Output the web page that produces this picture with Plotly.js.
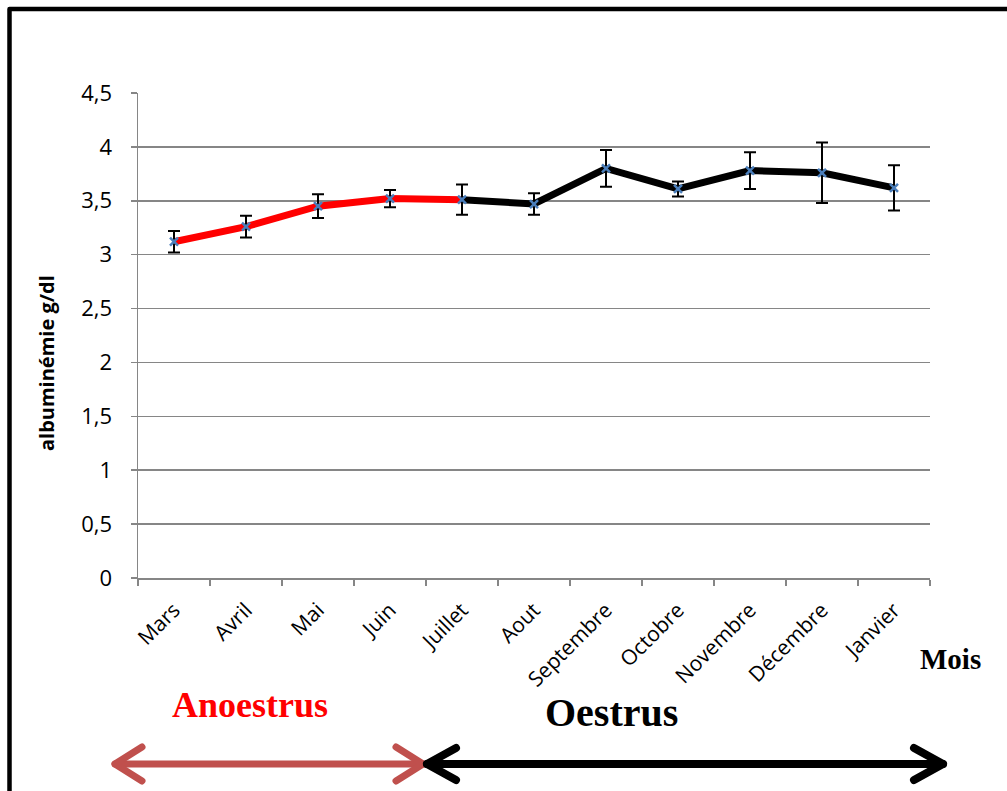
<!DOCTYPE html>
<html>
<head>
<meta charset="utf-8">
<script src="https://cdn.plot.ly/plotly-3.0.1.min.js"></script>
<style>
  html, body { margin: 0; padding: 0; background: #ffffff; }
  #chart { width: 1007px; height: 791px; }
</style>
</head>
<body>
<div id="chart"></div>
<script>
// Mois de suivi
const months = ['Mars', 'Avril', 'Mai', 'Juin', 'Juillet', 'Aout', 'Septembre', 'Octobre', 'Novembre', 'Décembre', 'Janvier'];
// Albuminémie moyenne (g/dl)
const albumin = [3.12, 3.26, 3.45, 3.52, 3.51, 3.47, 3.80, 3.61, 3.78, 3.76, 3.62];
// Écart-type (g/dl)
const albuminSD = [0.10, 0.10, 0.11, 0.08, 0.14, 0.10, 0.17, 0.07, 0.17, 0.28, 0.21];
// Saisons
const seasonLabels = ['Anoestrus', 'Oestrus'];
const anoestrusLast = 4; // Juillet closes the anoestrus segment
const yTicks = [0, 0.5, 1, 1.5, 2, 2.5, 3, 3.5, 4, 4.5];

// Page layout in pixels
const W = 1007, H = 791;
const PL = 138, PR = 930, PT = 93, PB = 578;
const px = x => (x - PL) / (PR - PL);
const py = y => (PB - y) / (PB - PT);
const pathOf = pts => pts.map((p, i) => (i ? 'L ' : 'M ') + px(p[0]) + ',' + py(p[1])).join(' ');

const GREY = '#868686';
const SANS = 'Open Sans, Noto Sans, sans-serif';
const SERIF = 'Liberation Serif, Times New Roman, serif';

const traces = [
  {
    x: months.slice(0, anoestrusLast + 1),
    y: albumin.slice(0, anoestrusLast + 1),
    mode: 'lines',
    line: { color: '#ff0000', width: 7 },
    hoverinfo: 'skip',
    showlegend: false
  },
  {
    x: months.slice(anoestrusLast),
    y: albumin.slice(anoestrusLast),
    mode: 'lines',
    line: { color: '#000000', width: 7 },
    hoverinfo: 'skip',
    showlegend: false
  },
  {
    x: months,
    y: albumin,
    mode: 'markers',
    marker: { symbol: 'x-thin', size: 8, line: { color: '#4a7ebb', width: 2.5 } },
    error_y: { type: 'data', array: albuminSD, visible: true, color: '#000000', thickness: 2, width: 6 },
    showlegend: false
  }
];

function arrow(x0, x1, y, head, dy) {
  return [
    pathOf([[x0, y], [x1, y]]),
    pathOf([[x0 + head, y - dy], [x0, y], [x0 + head, y + dy]]),
    pathOf([[x1 - head, y - dy], [x1, y], [x1 - head, y + dy]])
  ];
}

const shapes = [
  // frame
  { type: 'rect', xref: 'paper', yref: 'paper', x0: px(9.5), x1: px(1030), y0: py(9), y1: py(810),
    line: { color: '#000000', width: 4.5 }, fillcolor: 'rgba(0,0,0,0)' }
];
arrow(115, 423, 764, 27, 17).forEach(d => shapes.push({ type: 'path', xref: 'paper', yref: 'paper', path: d,
  line: { color: '#c0504d', width: 7 } }));
arrow(427, 943, 764, 29, 16).forEach(d => shapes.push({ type: 'path', xref: 'paper', yref: 'paper', path: d,
  line: { color: '#000000', width: 8 } }));

const annotations = [
  { text: '<b>albuminémie g/dl</b>', xref: 'paper', yref: 'paper', x: px(46), y: py(363), textangle: -90,
    showarrow: false, xanchor: 'center', yanchor: 'middle', font: { family: SANS, size: 20, color: '#000' } },
  { text: '<b>' + seasonLabels[0] + '</b>', xref: 'paper', yref: 'paper', x: px(250), y: py(705),
    showarrow: false, xanchor: 'center', yanchor: 'middle', font: { family: SERIF, size: 36, color: '#ff0000' } },
  { text: '<b>' + seasonLabels[1] + '</b>', xref: 'paper', yref: 'paper', x: px(611), y: py(712),
    showarrow: false, xanchor: 'center', yanchor: 'middle', font: { family: SERIF, size: 40, color: '#000' } },
  { text: '<b>Mois</b>', xref: 'paper', yref: 'paper', x: px(950), y: py(659),
    showarrow: false, xanchor: 'center', yanchor: 'middle', font: { family: SERIF, size: 29, color: '#000' } }
];

const layout = {
  width: W, height: H,
  margin: { l: PL, r: W - PR, t: PT, b: H - PB, pad: 0 },
  paper_bgcolor: '#ffffff', plot_bgcolor: '#ffffff',
  separators: ', ',
  font: { family: SANS, size: 17, color: '#000' },
  showlegend: false,
  xaxis: {
    type: 'category', categoryorder: 'array', categoryarray: months,
    range: [-0.5, months.length - 0.5],
    tickson: 'boundaries', ticks: 'outside', ticklen: 6, tickwidth: 1.5, tickcolor: GREY,
    showline: true, linecolor: GREY, linewidth: 1.5, showgrid: false, zeroline: false,
    tickangle: -45, ticklabelstandoff: 10,
    tickfont: { family: SANS, size: 21, color: '#000' }
  },
  yaxis: {
    range: [0, 4.5], tickvals: yTicks,
    ticks: 'outside', ticklen: 6, tickwidth: 1.5, tickcolor: GREY,
    showline: true, linecolor: GREY, linewidth: 1.5,
    showgrid: true, gridcolor: GREY, gridwidth: 1.6, zeroline: false,
    ticklabelstandoff: 14,
    tickfont: { family: SANS, size: 22, color: '#000' }
  },
  shapes: shapes,
  annotations: annotations
};

Plotly.newPlot('chart', traces, layout, { displayModeBar: false, staticPlot: true }).then(() => {
  document.querySelectorAll('.shapelayer path').forEach(p => {
    p.style.strokeLinecap = 'round';
    p.style.strokeLinejoin = 'round';
  });
});
</script>
</body>
</html>
